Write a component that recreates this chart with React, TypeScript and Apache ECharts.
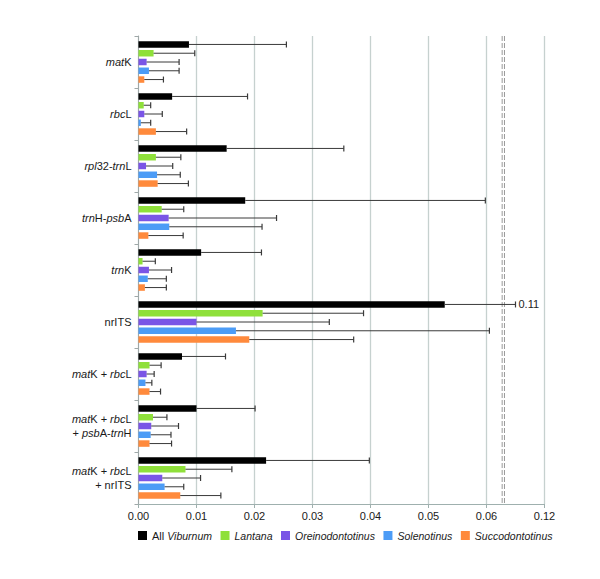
import React, { useEffect, useRef } from "react";
import * as echarts from "echarts";

const categoryLabels = [
  "{i|mat}K",
  "{i|rbc}L",
  "{i|rpl}32-{i|trn}L",
  "{i|trn}H-{i|psb}A",
  "{i|trn}K",
  "nrITS",
  "{i|mat}K + {i|rbc}L",
  "{i|mat}K + {i|rbc}L\n+ {i|psb}A-{i|trn}H",
  "{i|mat}K + {i|rbc}L\n+ nrITS",
];

const seriesNames = ["All Viburnum", "Lantana", "Oreinodontotinus", "Solenotinus", "Succodontotinus"];
const seriesColors = ["#000000", "#8fe03a", "#7a55e6", "#4c9cf6", "#ff8a3c"];

const allViburnum = [0.0087, 0.0058, 0.0152, 0.0184, 0.0108, 0.0528, 0.0075, 0.0100, 0.0220];
const allViburnumUpper = [0.0255, 0.0188, 0.0354, 0.0598, 0.0212, 0.11, 0.0150, 0.0201, 0.0398];
const lantana = [0.0026, 0.0009, 0.0030, 0.0040, 0.0007, 0.0214, 0.0019, 0.0025, 0.0081];
const lantanaUpper = [0.0097, 0.0021, 0.0073, 0.0078, 0.0029, 0.0388, 0.0039, 0.0049, 0.0161];
const oreinodontotinus = [0.0014, 0.0010, 0.0013, 0.0052, 0.0018, 0.0100, 0.0014, 0.0022, 0.0041];
const oreinodontotinusUpper = [0.0070, 0.0041, 0.0059, 0.0238, 0.0057, 0.0329, 0.0027, 0.0069, 0.0107];
const solenotinus = [0.0018, 0.0004, 0.0032, 0.0053, 0.0016, 0.0168, 0.0012, 0.0021, 0.0045];
const solenotinusUpper = [0.0070, 0.0021, 0.0072, 0.0213, 0.0048, 0.0605, 0.0023, 0.0056, 0.0078];
const succodontotinus = [0.0010, 0.0030, 0.0033, 0.0017, 0.0011, 0.0191, 0.0019, 0.0019, 0.0072];
const succodontotinusUpper = [0.0043, 0.0083, 0.0086, 0.0077, 0.0048, 0.0371, 0.0038, 0.0057, 0.0142];

const xTickLabels = ["0.00", "0.01", "0.02", "0.03", "0.04", "0.05", "0.06", "0.12"];
const breakMarks = [0.0627, 0.0631];

const means = [allViburnum, lantana, oreinodontotinus, solenotinus, succodontotinus];
const uppers = [allViburnumUpper, lantanaUpper, oreinodontotinusUpper, solenotinusUpper, succodontotinusUpper];

// broken axis: visual 0.07 represents 0.12, values above BREAK_REAL compressed
const BREAK_REAL = 0.1;
const toAxis = (v: number) => (v > BREAK_REAL ? 0.07 - (0.12 - v) / 2 : v);

const FONT = "'Liberation Sans', Arial, sans-serif";
const BAR_W = 6.5;
const BAR_GAP = 0.35;

export default function App() {
  const ref = useRef<HTMLDivElement>(null);
  useEffect(() => {
    if (!ref.current) return;
    const chart = echarts.init(ref.current, null, { renderer: "svg" });
    const pitch = BAR_W * (1 + BAR_GAP);

    const barSeries: any[] = seriesNames.map((name, i) => ({
      name,
      type: "bar",
      data: means[i],
      barWidth: BAR_W,
      barGap: BAR_GAP * 100 + "%",
      itemStyle: { color: seriesColors[i] },
      z: 2,
    }));

    const breakSeries: any = {
      name: "axis break",
      type: "custom",
      silent: true,
      z: 1,
      encode: { x: 0, y: 1 },
      data: breakMarks.map((b) => [b, 0]),
      renderItem: (params: any, api: any) => {
        const cs = params.coordSys;
        const x = api.coord([api.value(0), 0])[0];
        return {
          type: "line",
          shape: { x1: x, y1: cs.y, x2: x, y2: cs.y + cs.height },
          style: { stroke: "#9a9a9a", lineWidth: 1, lineDash: [5, 2] },
        };
      },
    };

    const errSeries: any[] = seriesNames.map((name, i) => ({
      name: name + " err",
      type: "custom",
      z: 3,
      silent: true,
      encode: { x: 0, y: 1 },
      data: means[i].map((m, c) => [toAxis(uppers[i][c]), c, toAxis(m), uppers[i][c]]),
      renderItem: (params: any, api: any) => {
        const up = api.value(0);
        const cat = api.value(1);
        const mean = api.value(2);
        const real = api.value(3);
        const p0 = api.coord([mean, cat]);
        const p1 = api.coord([up, cat]);
        const y = p0[1] + (i - 2) * pitch;
        const children: any[] = [
          {
            type: "line",
            shape: { x1: p0[0], y1: y, x2: p1[0], y2: y },
            style: { stroke: "#3a3a3a", lineWidth: 1 },
          },
          {
            type: "line",
            shape: { x1: p1[0], y1: y - 3, x2: p1[0], y2: y + 3 },
            style: { stroke: "#3a3a3a", lineWidth: 1.2 },
          },
        ];
        if (real > BREAK_REAL) {
          children.push({
            type: "text",
            style: {
              text: String(real),
              x: p1[0] + 3,
              y: y,
              fill: "#222",
              font: "11px " + FONT,
              verticalAlign: "middle",
            },
          });
        }
        return { type: "group", children };
      },
    }));

    chart.setOption({
      animation: false,
      textStyle: { fontFamily: FONT },
      grid: { left: 138.5, right: 55.5, top: 36, bottom: 75, containLabel: false },
      legend: {
        data: seriesNames,
        left: 138,
        top: 530,
        padding: 0,
        itemWidth: 9,
        itemHeight: 9,
        itemGap: 8.5,
        icon: "rect",
        formatter: (n: string) => (n === "All Viburnum" ? "All {i|Viburnum}" : "{i|" + n + "}"),
        textStyle: {
          fontSize: 11,
          color: "#1a1a1a",
          fontFamily: FONT,
          rich: { i: { fontStyle: "italic", fontSize: 10.5, color: "#1a1a1a", fontFamily: FONT } },
        },
      },
      xAxis: {
        type: "value",
        min: 0,
        max: 0.07,
        interval: 0.01,
        axisLine: { show: true, lineStyle: { color: "#9fb0ae", width: 1 } },
        axisTick: { show: true, length: 4, lineStyle: { color: "#9fb0ae" } },
        splitLine: { show: true, lineStyle: { color: "#c6d1cf", width: 1.3 } },
        axisLabel: {
          fontSize: 11,
          color: "#1a1a1a",
          margin: 6,
          fontFamily: FONT,
          formatter: (v: number) => xTickLabels[Math.round(v * 100)] ?? "",
        },
      },
      yAxis: {
        type: "category",
        inverse: true,
        data: categoryLabels,
        axisLine: { show: true, lineStyle: { color: "#9fa8a8", width: 1 } },
        axisTick: { show: true, length: 4, lineStyle: { color: "#9fa8a8" } },
        splitLine: { show: false },
        axisLabel: {
          fontSize: 11,
          color: "#1a1a1a",
          margin: 7,
          lineHeight: 14,
          align: "right",
          fontFamily: FONT,
          rich: { i: { fontStyle: "italic", fontSize: 11, color: "#1a1a1a", lineHeight: 14, fontFamily: FONT } },
        },
      },
      series: [breakSeries, ...barSeries, ...errSeries],
    });
    return () => chart.dispose();
  }, []);
  return (
    <div
      ref={ref}
      style={{ position: "fixed", left: 0, top: 0, width: 600, height: 579, background: "#fff" }}
    />
  );
}
